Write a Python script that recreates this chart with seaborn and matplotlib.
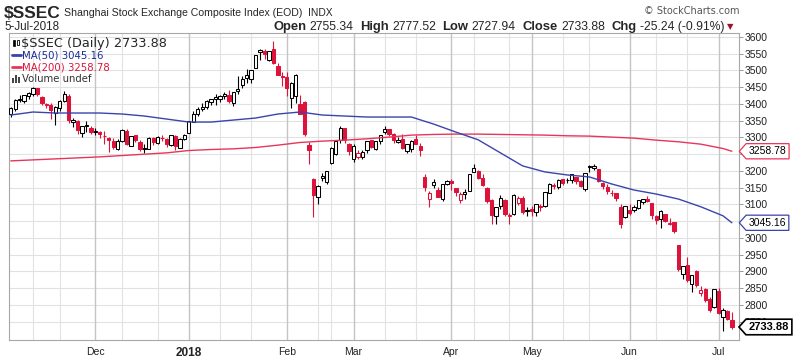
import numpy as np
import pandas as pd
import seaborn as sns
import matplotlib.pyplot as plt
from matplotlib.path import Path
from matplotlib.patches import Rectangle
from matplotlib.lines import Line2D

# trading days shown (SSE calendar, holidays removed)
holidays = ['2018-01-01', '2018-02-15', '2018-02-16', '2018-02-19', '2018-02-20',
            '2018-02-21', '2018-04-05', '2018-04-06', '2018-04-30', '2018-05-01',
            '2018-06-18']
dates = pd.bdate_range('2017-11-06', '2018-07-05')
dates = dates[~dates.isin(pd.to_datetime(holidays))]

# daily OHLC, month by month
opens = [3370, 3385, 3411, 3408, 3423, 3430, 3447, 3422, 3397, 3397, 3372, 3388, 3410, 3425, 3345, 3350, 3312, 3333, 3328,
         3316, 3316, 3304, 3297, 3289, 3266, 3289, 3319, 3275, 3306, 3286, 3268, 3267, 3298, 3283, 3297, 3294, 3276, 3303, 3269, 3295,
         3314, 3347, 3371, 3386, 3391, 3407, 3414, 3415, 3423, 3428, 3403, 3439, 3456, 3478, 3474, 3508, 3556, 3557, 3532, 3563, 3512, 3483,
         3480, 3419, 3425, 3400, 3405, 3278, 3176, 3122, 3180, 3166, 3224, 3251, 3292, 3329, 3281,
         3235, 3242, 3242, 3262, 3291, 3266, 3290, 3315, 3325, 3309, 3286, 3295, 3261, 3267, 3296, 3275, 3181, 3116, 3158, 3143, 3115, 3160,
         3170, 3148, 3112, 3130, 3140, 3198, 3199, 3180, 3148, 3113, 3066, 3095, 3114, 3066, 3072, 3105, 3120, 3080,
         3086, 3076, 3096, 3094, 3135, 3156, 3152, 3175, 3172, 3174, 3183, 3169, 3146, 3213, 3210, 3205, 3164, 3153, 3133, 3133, 3092, 3061,
         3084, 3082, 3090, 3108, 3115, 3104, 3064, 3055, 3071, 3041, 3046, 2979, 2891, 2919, 2862, 2900, 2835, 2847, 2818, 2795,
         2841, 2765, 2783, 2755.34]
highs = [3390, 3414, 3427, 3428, 3436, 3450, 3448, 3425, 3404, 3403, 3394, 3411, 3440, 3430, 3358, 3352, 3334, 3349, 3333,
         3328, 3319, 3320, 3301, 3297, 3296, 3324, 3324, 3305, 3306, 3292, 3279, 3300, 3300, 3305, 3306, 3299, 3307, 3307, 3298, 3309,
         3349, 3379, 3392, 3403, 3412, 3414, 3430, 3426, 3436, 3443, 3437, 3485, 3483, 3505, 3501, 3547, 3563, 3565, 3559, 3587, 3522, 3495,
         3495, 3465, 3490, 3428, 3408, 3285, 3178, 3158, 3194, 3200, 3270, 3290, 3335, 3329, 3283,
         3280, 3262, 3262, 3290, 3292, 3290, 3307, 3334, 3326, 3312, 3301, 3309, 3280, 3292, 3306, 3282, 3191, 3141, 3176, 3151, 3162, 3174,
         3176, 3150, 3138, 3145, 3191, 3220, 3204, 3192, 3152, 3117, 3092, 3128, 3115, 3075, 3130, 3126, 3126, 3093,
         3094, 3102, 3100, 3137, 3163, 3164, 3175, 3177, 3180, 3192, 3183, 3174, 3194, 3219, 3220, 3205, 3166, 3161, 3143, 3135, 3100, 3096,
         3102, 3099, 3114, 3115, 3124, 3104, 3067, 3082, 3071, 3059, 3046, 2979, 2917, 2942, 2890, 2904, 2856, 2850, 2824, 2848,
         2849, 2792, 2785, 2777.52]
lows = [3362, 3380, 3405, 3402, 3415, 3423, 3423, 3398, 3387, 3354, 3336, 3380, 3406, 3343, 3331, 3311, 3302, 3317, 3311,
        3306, 3297, 3281, 3256, 3267, 3262, 3287, 3278, 3275, 3285, 3260, 3254, 3265, 3276, 3281, 3290, 3271, 3274, 3264, 3269, 3292,
        3314, 3346, 3365, 3379, 3385, 3396, 3398, 3405, 3414, 3402, 3395, 3430, 3449, 3463, 3462, 3506, 3532, 3534, 3528, 3520, 3486, 3454,
        3423, 3388, 3402, 3369, 3303, 3221, 3062, 3101, 3169, 3160, 3222, 3249, 3282, 3283, 3248,
        3228, 3235, 3235, 3254, 3268, 3264, 3280, 3310, 3305, 3282, 3282, 3265, 3253, 3257, 3279, 3245, 3141, 3091, 3148, 3121, 3111, 3157,
        3144, 3124, 3105, 3117, 3139, 3196, 3176, 3155, 3105, 3040, 3041, 3085, 3065, 3041, 3069, 3098, 3071, 3064,
        3066, 3065, 3079, 3092, 3133, 3146, 3146, 3157, 3164, 3163, 3162, 3152, 3141, 3197, 3204, 3166, 3147, 3132, 3124, 3111, 3030, 3058,
        3069, 3078, 3087, 3101, 3107, 3057, 3042, 3029, 3047, 3038, 3015, 2900, 2878, 2868, 2838, 2852, 2825, 2808, 2779, 2790,
        2772, 2722, 2756, 2727.94]
closes = [3388, 3413, 3415, 3427, 3432, 3447, 3429, 3402, 3399, 3382, 3392, 3410, 3430, 3351, 3353, 3322, 3333, 3337, 3317,
          3318, 3310, 3303, 3293, 3272, 3289, 3322, 3280, 3303, 3292, 3266, 3267, 3297, 3287, 3300, 3297, 3280, 3306, 3275, 3296, 3307,
          3349, 3369, 3386, 3392, 3409, 3414, 3421, 3425, 3429, 3410, 3437, 3444, 3474, 3487, 3501, 3546, 3560, 3548, 3558, 3523, 3488, 3481,
          3447, 3462, 3487, 3370, 3309, 3262, 3129, 3154, 3184, 3199, 3268, 3289, 3329, 3292, 3259,
          3273, 3254, 3256, 3289, 3271, 3288, 3307, 3326, 3310, 3291, 3291, 3269, 3279, 3290, 3281, 3263, 3153, 3133, 3166, 3122, 3160, 3169,
          3163, 3137, 3131, 3138, 3190, 3208, 3180, 3159, 3111, 3067, 3091, 3118, 3071, 3068, 3128, 3118, 3076, 3082,
          3081, 3101, 3091, 3136, 3161, 3159, 3174, 3163, 3174, 3192, 3170, 3155, 3193, 3214, 3214, 3169, 3155, 3141, 3135, 3120, 3041, 3095,
          3075, 3091, 3114, 3115, 3110, 3067, 3052, 3080, 3050, 3044, 3022, 2908, 2916, 2875, 2889, 2860, 2844, 2813, 2786, 2847,
          2775, 2786, 2759, 2733.88]

# moving averages read every 5 sessions (last point = final session)
ma_step = 5
ma50 = [3367, 3376, 3373, 3373, 3373, 3370, 3364, 3355, 3346, 3346, 3352, 3358, 3370, 3376, 3367, 3364, 3361,
        3361, 3361, 3340, 3316, 3293, 3254, 3215, 3197, 3188, 3182, 3161, 3143, 3131, 3116, 3093, 3066, 3045.16]
ma200 = [3230, 3233, 3236, 3239, 3242, 3246, 3250, 3254, 3261, 3264, 3266, 3270, 3277, 3285, 3289, 3292, 3296,
         3301, 3307, 3309, 3310, 3310, 3309, 3308, 3307, 3305, 3304, 3301, 3298, 3292, 3287, 3280, 3267, 3258.78]

month_names = ['Dec', '2018', 'Feb', 'Mar', 'Apr', 'May', 'Jun', 'Jul']
y_ticks = list(range(2750, 3601, 50))
hidden_ticks = [3050, 3250]   # sit under the MA value tags

RED = '#dc143c'
BLUE = '#3a44ad'
MA_RED = '#e8365a'

df = pd.DataFrame({'date': dates, 'open': opens, 'high': highs, 'low': lows, 'close': closes})
df['i'] = np.arange(len(df))
prev = df['close'].shift(1).fillna(3372)
df['color'] = np.where(df['close'] < prev, RED, 'black')
df['hollow'] = df['close'] >= df['open']

sns.set_style('white')
plt.rcParams['font.family'] = ['Liberation Sans', 'DejaVu Sans']

W, H = 800, 358
fig = plt.figure(figsize=(W / 100, H / 100), dpi=100)
ax = fig.add_axes([9 / W, 1 - 340 / H, 730 / W, 307 / H])
ax.set_xlim(-0.4, 163.6)
ax.set_ylim(2695, 3612)


def fx(x, y):
    return x / W, 1 - y / H


# grid
for v in y_ticks:
    ax.axhline(v, color='#e2e2e2', lw=0.8, zorder=0)
first_of_month = df.groupby(df['date'].dt.to_period('M'))['i'].first().iloc[1:]
for k in first_of_month:
    ax.axvline(k, color='#c4c4c4', lw=1.0, zorder=0)
for per, g in df.groupby(df['date'].dt.to_period('M')):
    for d in (11, 21):
        sel = g[g['date'].dt.day >= d]
        if len(sel):
            ax.axvline(sel['i'].iloc[0], color='#e2e2e2', lw=0.8, zorder=0)

# candles
ax.vlines(df['i'], df['low'], df['high'], colors=df['color'], lw=0.8, zorder=2)
body_lo = df[['open', 'close']].min(axis=1)
body_h = (df['close'] - df['open']).abs().clip(lower=0.8)
faces = np.where(df['hollow'], 'white', df['color'])
ax.bar(df['i'], body_h, bottom=body_lo, width=0.74, color=faces,
       edgecolor=df['color'], linewidth=0.75, zorder=3)

# moving averages
ma_x = list(range(0, len(df) - 1, ma_step)) + [len(df) - 1]
ma_df = pd.DataFrame({'i': ma_x, 'ma50': ma50, 'ma200': ma200})
sns.lineplot(data=ma_df, x='i', y='ma200', ax=ax, color=MA_RED, lw=1.0, zorder=4)
sns.lineplot(data=ma_df, x='i', y='ma50', ax=ax, color=BLUE, lw=1.0, zorder=4)

# axes styling
ax.yaxis.tick_right()
ax.set_yticks(y_ticks)
ax.set_yticklabels(['' if v in hidden_ticks else str(v) for v in y_ticks], fontsize=7.5, color='#222222')
ax.tick_params(axis='y', length=3, width=0.6, color='#888888', pad=1)
ax.set_xticks(list(first_of_month))
ax.set_xticklabels(month_names, fontsize=7.5, color='#222222')
for lab in ax.get_xticklabels():
    if lab.get_text() == '2018':
        lab.set_fontweight('bold')
        lab.set_fontsize(8.5)
ax.set_xticks(df['i'], minor=True)
ax.tick_params(axis='x', which='major', length=3, width=0.6, color='#999999', pad=2)
ax.tick_params(axis='x', which='minor', length=1.5, width=0.5, color='#bbbbbb')
ax.set_xlabel('')
ax.set_ylabel('')
for s in ax.spines.values():
    s.set_color('#a8a8a8')
    s.set_linewidth(0.8)


# value tags on the right axis
def tag_box(x0, y0, width, height, mutation_size):
    pad = 0.25 * mutation_size
    x0, y0 = x0 - pad, y0 - pad
    x1, y1 = x0 + width + 2 * pad, y0 + height + 2 * pad
    ym = (y0 + y1) / 2
    tip = 0.45 * (y1 - y0)
    return Path([(x0, y0), (x1, y0), (x1, y1), (x0, y1), (x0 - tip, ym), (x0, y0)], closed=True)


for val, col, bold in [(ma200[-1], MA_RED, False), (ma50[-1], BLUE, False), (closes[-1], 'black', True)]:
    ax.annotate(f'{val:.2f}', xy=(1, val), xycoords=('axes fraction', 'data'),
                xytext=(7, 0), textcoords='offset points', va='center', ha='left',
                fontsize=8 if bold else 7.5, fontweight='bold' if bold else 'normal', color='black',
                bbox=dict(boxstyle=tag_box, fc='white', ec=col, lw=1.2 if bold else 0.9),
                annotation_clip=False, zorder=10)

# header texts
fig.text(*fx(4, 13), '$SSEC', fontsize=12.5, fontweight='bold', va='center')
fig.text(*fx(64, 13), 'Shanghai Stock Exchange Composite Index (EOD)', fontsize=7.6, va='center')
fig.text(*fx(308, 13), 'INDX', fontsize=7.4, va='center')
fig.text(*fx(4, 27), '5-Jul-2018', fontsize=8.4, va='center')
fig.text(*fx(740, 11), '\u00a9 StockCharts.com', fontsize=7, color='#555555', va='center', ha='right',
         family='DejaVu Sans')

renderer = fig.canvas.get_renderer()
parts = [('Open', 'bold'), ('2755.34', 'normal'), ('High', 'bold'), ('2777.52', 'normal'),
         ('Low', 'bold'), ('2727.94', 'normal'), ('Close', 'bold'), ('2733.88', 'normal'),
         ('Chg', 'bold'), ('-25.24 (-0.91%)', 'normal')]
xp = 273
for k, (s, w) in enumerate(parts):
    t = fig.text(*fx(xp, 27), s, fontsize=9.4 if w == 'bold' else 8.7, fontweight=w, va='center')
    bb = t.get_window_extent(renderer)
    xp += bb.width + (3.5 if w == 'bold' else 6.5)
fig.text(*fx(xp - 4, 27), '\u25bc', fontsize=6, color='#a0102a', va='center', family='DejaVu Sans')

# legend block inside the plot
fig.patches.append(Rectangle(fx(13, 46), 2 / W, 6 / H, transform=fig.transFigure, fc='black', ec='black', lw=0.5))
fig.patches.append(Rectangle(fx(17, 45), 2 / W, 5 / H, transform=fig.transFigure, fc='white', ec='black', lw=0.6))
fig.text(*fx(21, 43), '$SSEC (Daily) 2733.88', fontsize=9.3, va='center', family='DejaVu Sans')
fig.lines.append(Line2D([12 / W, 21 / W], [1 - 55 / H] * 2, transform=fig.transFigure, color=BLUE, lw=2))
fig.text(*fx(22, 55), 'MA(50) 3045.16', fontsize=7.3, va='center', color='#1a2a9a', family='DejaVu Sans')
fig.lines.append(Line2D([12 / W, 21 / W], [1 - 67 / H] * 2, transform=fig.transFigure, color=MA_RED, lw=2))
fig.text(*fx(22, 67), 'MA(200) 3258.78', fontsize=7.3, va='center', color=RED, family='DejaVu Sans')
for bx, bh in [(12, 5), (15, 8), (18, 6)]:
    fig.patches.append(Rectangle(fx(bx, 83), 2 / W, bh / H, transform=fig.transFigure, fc='#444444', ec='none'))
fig.text(*fx(22, 79), 'Volume undef', fontsize=7.3, va='center', color='#333333', family='DejaVu Sans')

fig.savefig('out.png', dpi=100)
